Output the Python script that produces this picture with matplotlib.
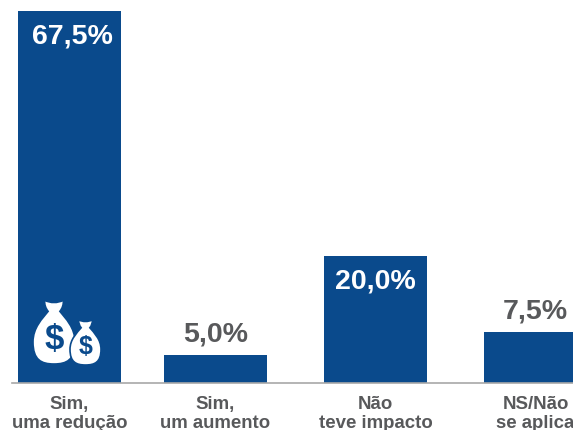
import matplotlib
matplotlib.use("Agg")
import matplotlib.pyplot as plt
from matplotlib.path import Path
from matplotlib.patches import PathPatch

plt.rcParams['font.family'] = ['Liberation Sans', 'DejaVu Sans']

# heights follow the drawn bars, which are not to scale with their labels
categories = ['Sim,\numa redução', 'Sim,\num aumento', 'Não\nteve impacto', 'NS/Não\nse aplica']
bar_heights = [67.5, 5.05, 23.0, 9.25]
value_labels = ['67,5%', '5,0%', '20,0%', '7,5%']
label_inside = [True, False, True, False]

W, H = 573, 430
BLUE = '#0a4a8c'
GRAY = '#58595b'
positions = [69.5, 215.5, 375.5, 535.5]
label_shift = [2, 0, 0, 0]


def draw_bag(ax, cx, top, bottom, half, size):
    """Money bag in pixel coordinates, y pointing down."""
    h = bottom - top
    neck = top + h * 0.19
    mid = top + h * 0.66
    C3, C4 = Path.CURVE3, Path.CURVE4
    codes = [Path.MOVETO, C3, C3, C3, C3,
             C4, C4, C4, C4, C4, C4, C4, C4, C4, C4, C4, C4,
             C3, C3, Path.CLOSEPOLY]
    verts = [
        (cx - half * 0.45, top + h * 0.02),
        (cx, top + h * 0.09), (cx + half * 0.45, top + h * 0.02),
        (cx + half * 0.46, top + h * 0.12), (cx + half * 0.28, neck),
        # right side of the body, then round the bottom
        (cx + half * 0.55, top + h * 0.30), (cx + half, top + h * 0.44), (cx + half, mid),
        (cx + half, bottom - h * 0.06), (cx + half * 0.6, bottom), (cx, bottom),
        (cx - half * 0.6, bottom), (cx - half, bottom - h * 0.06), (cx - half, mid),
        (cx - half, top + h * 0.44), (cx - half * 0.55, top + h * 0.30), (cx - half * 0.28, neck),
        (cx - half * 0.46, top + h * 0.12), (cx - half * 0.45, top + h * 0.02),
        (cx - half * 0.45, top + h * 0.02),
    ]
    ax.add_patch(PathPatch(Path(verts, codes), facecolor='white', edgecolor=BLUE, linewidth=1.2))
    ax.text(cx, mid - 2, '$', color=BLUE, fontsize=size, fontweight='bold',
            ha='center', va='center')


fig = plt.figure(figsize=(W / 100, H / 100), dpi=100, facecolor='white')
ax = fig.add_axes([12 / W, (H - 383) / H, (W - 12) / W, (383 - 11) / H])
ax.bar(positions, bar_heights, width=102.5, color=BLUE, zorder=2)
ax.set_xlim(12, W)
ax.set_ylim(0, max(bar_heights))

for side in ['top', 'right', 'left']:
    ax.spines[side].set_visible(False)
ax.spines['bottom'].set_color('#a8a8a8')
ax.spines['bottom'].set_linewidth(1.2)
ax.set_yticks([])
ax.set_xticks(positions)
ax.set_xticklabels(categories, fontsize=13.4, fontweight='bold', color=GRAY, linespacing=1.2)
ax.tick_params(axis='x', length=0, pad=9.2)

for x, h, lab, inside, dx in zip(positions, bar_heights, value_labels, label_inside, label_shift):
    ax.annotate(lab, (x, h), xytext=(dx, -18 if inside else 15), textcoords='offset points',
                ha='center', va='center', fontsize=20.5, fontweight='bold',
                color='white' if inside else GRAY, zorder=3)

# icon layer in pixel coordinates
icon = fig.add_axes([0, 0, 1, 1], facecolor='none')
icon.set_xlim(0, W)
icon.set_ylim(H, 0)
icon.axis('off')
draw_bag(icon, 54, 299, 364, 21, 25)
draw_bag(icon, 85.5, 319, 365, 15.5, 18)

fig.savefig('out.png', dpi=100)
